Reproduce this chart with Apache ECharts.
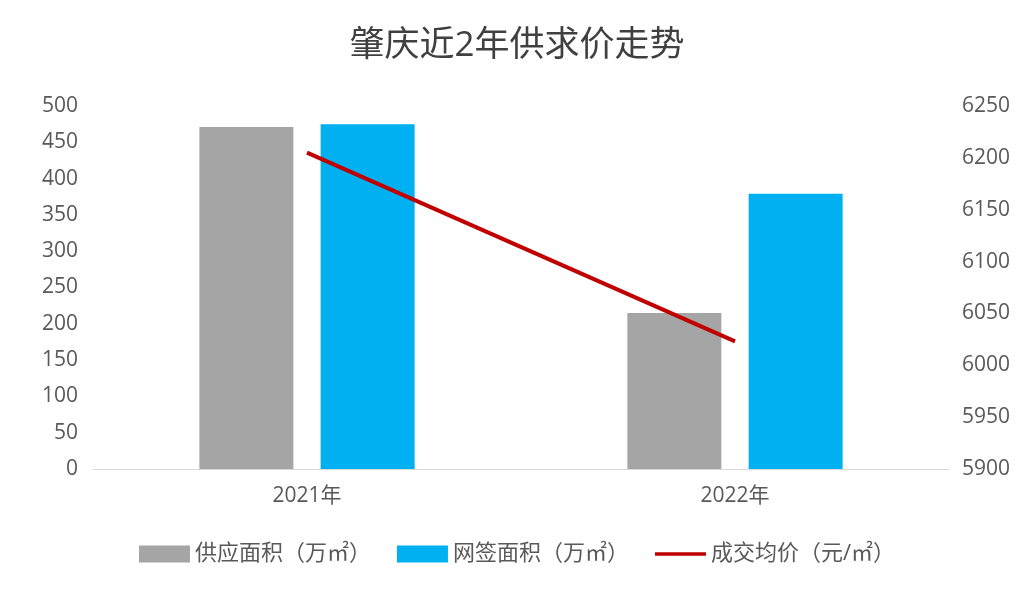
<!DOCTYPE html>
<html><head><meta charset="utf-8">
<script src="https://cdn.jsdelivr.net/npm/echarts@6/dist/echarts.min.js"></script>
<style>html,body{margin:0;padding:0;background:#fff}#c{width:1034px;height:596px}</style>
</head><body><div id="c"></div>
<script>
var categories = ['2021年', '2022年'];
var supplyArea = [471, 215];
var signedArea = [475, 379];
var avgPrice = [6205, 6023];
var seriesNames = ['供应面积（万㎡）', '网签面积（万㎡）', '成交均价（元/㎡）'];

var font = '"Open Sans", "Noto Sans CJK SC", sans-serif';
var chart = echarts.init(document.getElementById('c'));
chart.setOption({
  backgroundColor: '#fff',
  textStyle: {fontFamily: font},
  title: {text: '肇庆近2年供求价走势', left: 'center', top: 24,
    textStyle: {fontSize: 35, fontWeight: 'normal', color: '#404040', fontFamily: font}},
  legend: {bottom: 26, left: 'center', itemWidth: 51, itemHeight: 17, itemGap: 26,
    textStyle: {fontSize: 22, color: '#595959', fontFamily: font},
    data: [{name: seriesNames[0], icon: 'rect'}, {name: seriesNames[1], icon: 'rect'}, {name: seriesNames[2], icon: 'path://M0,6 L60,6 L60,10 L0,10 Z'}]},
  grid: {left: 93, right: 85, top: 106, bottom: 127, containLabel: false},
  xAxis: {type: 'category', data: categories,
    axisLine: {lineStyle: {color: '#d9d9d9', width: 1}}, axisTick: {show: false},
    axisLabel: {fontSize: 21, color: '#595959', margin: 17, fontFamily: font}},
  yAxis: [
    {type: 'value', min: 0, max: 500, interval: 50, splitLine: {show: false},
      axisLine: {show: false}, axisTick: {show: false},
      axisLabel: {fontSize: 21, color: '#595959', margin: 15, fontFamily: font}},
    {type: 'value', min: 5900, max: 6250, interval: 50, splitLine: {show: false},
      axisLine: {show: false}, axisTick: {show: false},
      axisLabel: {fontSize: 21, color: '#595959', margin: 13, fontFamily: font,
        formatter: function (v) { return String(v); }}}
  ],
  series: [
    {name: seriesNames[0], type: 'bar', data: supplyArea, barWidth: 94, barGap: '29%',
      itemStyle: {color: '#a5a5a5'}},
    {name: seriesNames[1], type: 'bar', data: signedArea, barWidth: 94,
      itemStyle: {color: '#00b0f0'}},
    {name: seriesNames[2], type: 'line', yAxisIndex: 1, data: avgPrice, showSymbol: false, symbol: 'none',
      lineStyle: {color: '#c00000', width: 4}, itemStyle: {color: '#c00000'}}
  ]
});
</script></body></html>
